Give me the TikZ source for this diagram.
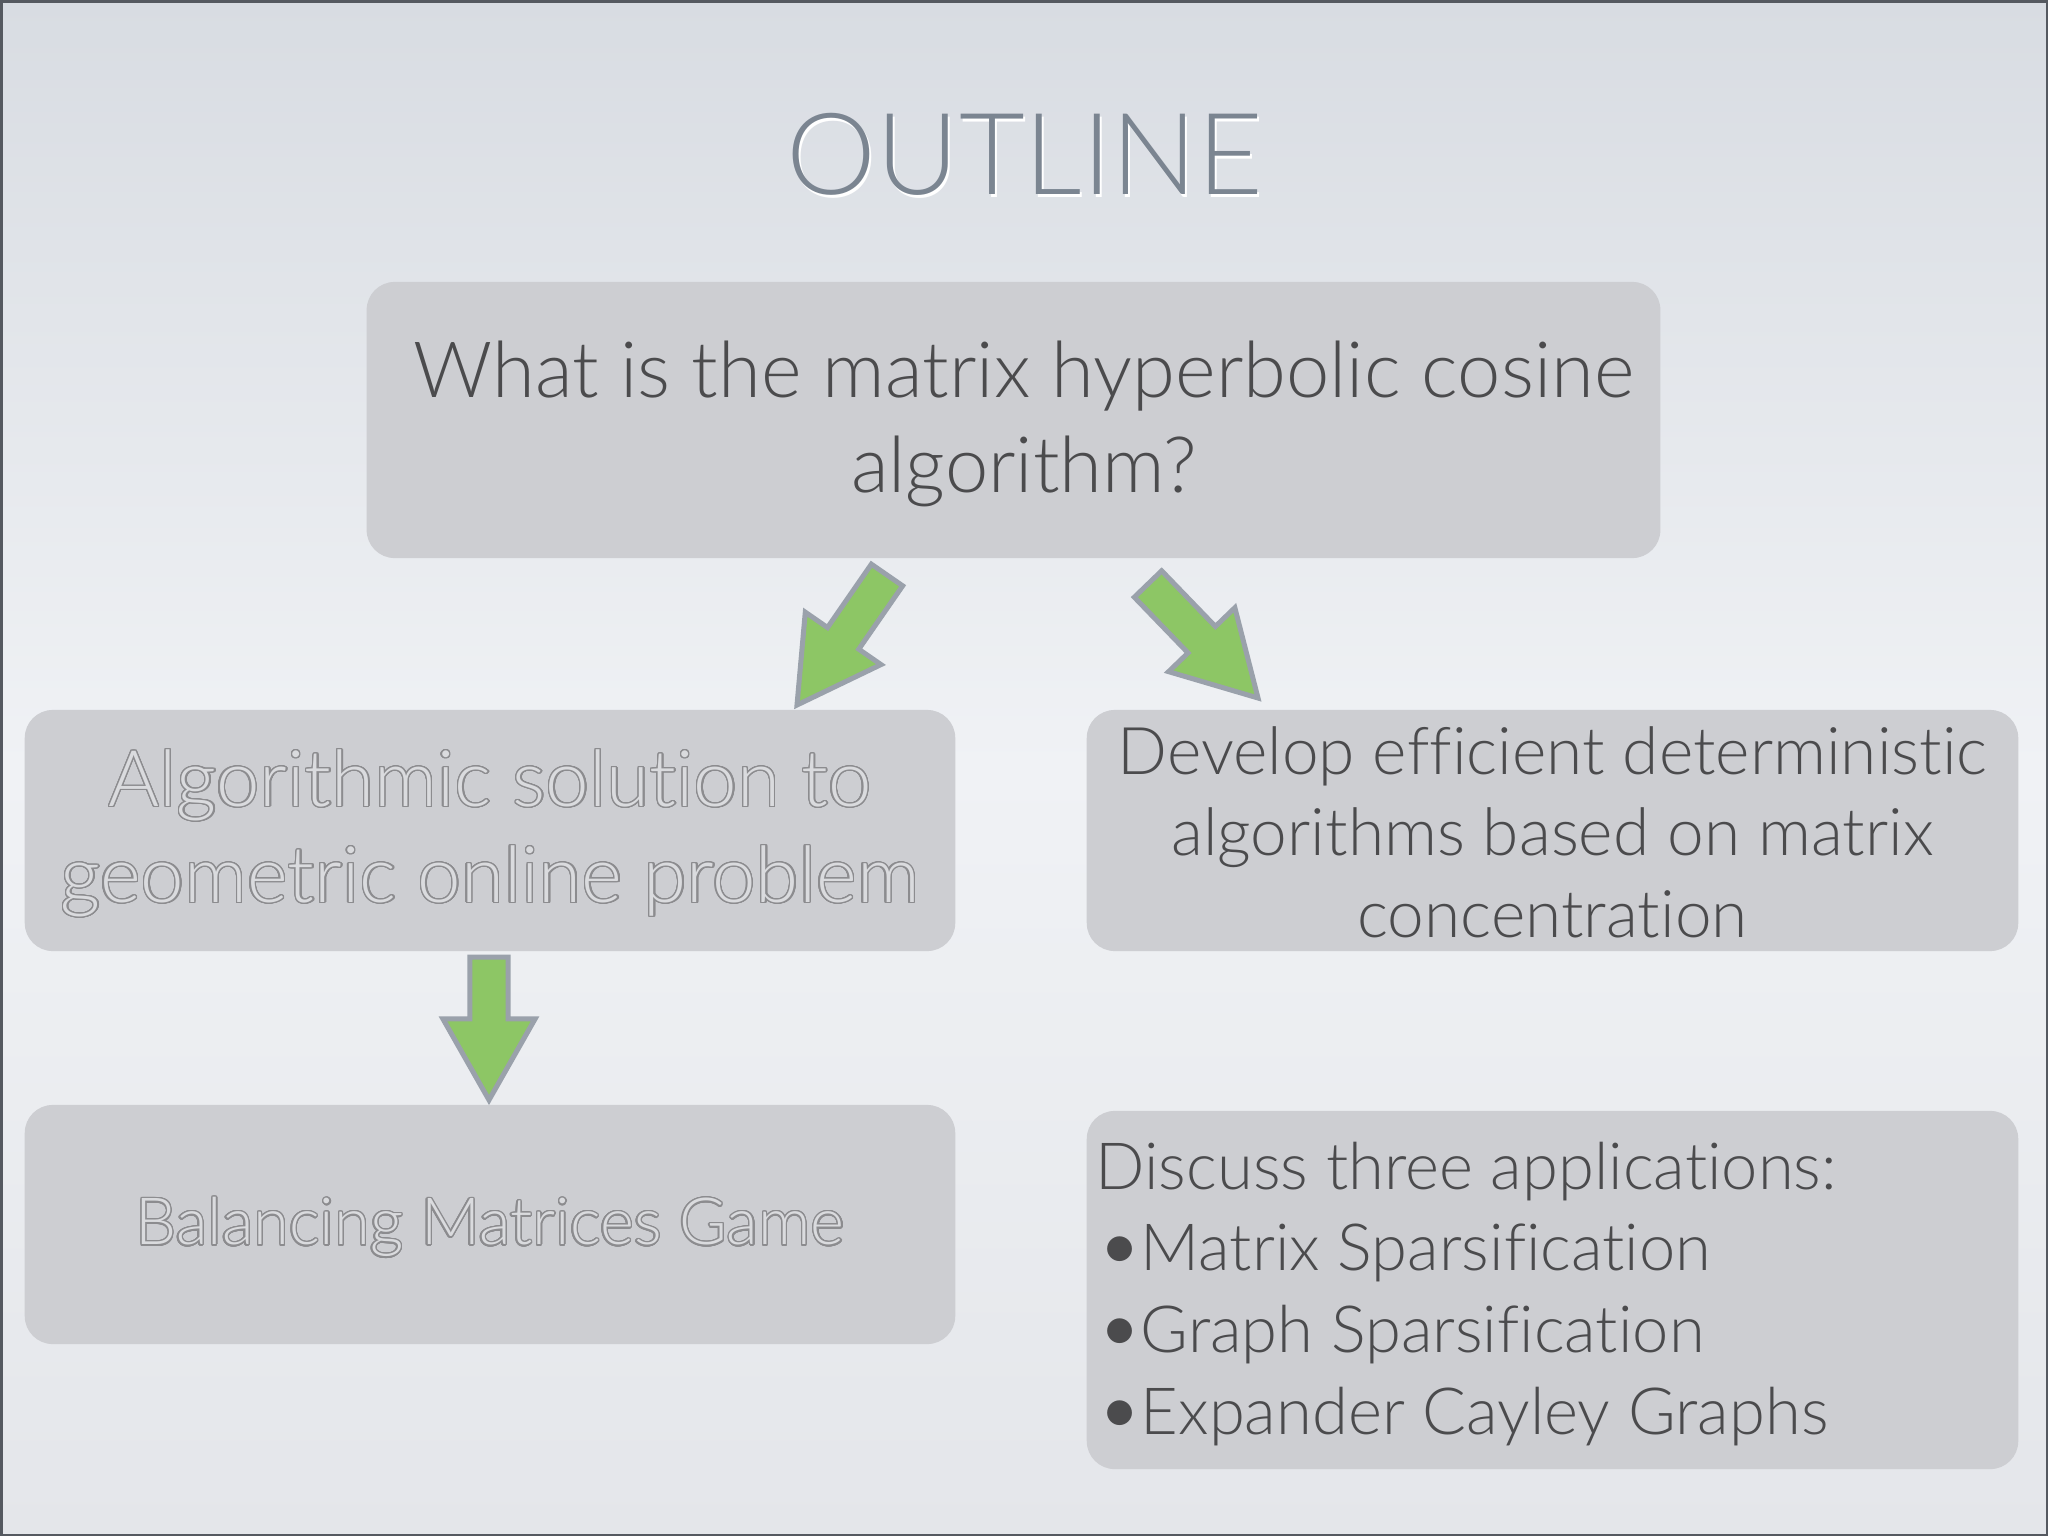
\documentclass[tikz,border=0pt]{standalone}
\usepackage{fontspec}
\setmainfont{Lato Light}[Ligatures=NoCommon]
\usepackage{contour}
\contourlength{0.4pt}
\contournumber{24}
\usetikzlibrary{calc}
\definecolor{bgtop}{HTML}{D8DCE2}
\definecolor{bgmid}{HTML}{F0F2F5}
\definecolor{bgbot}{HTML}{E4E6EA}
\definecolor{boxfill}{HTML}{CDCED2}
\definecolor{maintext}{HTML}{4B4B4D}
\definecolor{titletext}{HTML}{7B8591}
\definecolor{outstroke}{HTML}{8C8C8F}
\definecolor{outfill}{HTML}{DADBDE}
\definecolor{arrowfill}{HTML}{8DC665}
\definecolor{arrowedge}{HTML}{9AA1AB}
\definecolor{framecol}{HTML}{555960}
\tikzset{
  panel/.style={fill=boxfill, rounded corners=0.28cm, inner sep=0pt, draw=none},
  bigarrow/.style={fill=arrowfill, draw=arrowedge, line width=0.05cm, line join=miter},
  maintxt/.style={text=maintext, inner sep=0pt, align=center},
}
\newcommand\blockarrow[2]{%
  \coordinate (ba-h) at ($(#2)!0.81cm!(#1)$);
  \draw[bigarrow] ($(#1)!0.19cm!90:(#2)$) -- ($(ba-h)!0.19cm!90:(#2)$)
    -- ($(ba-h)!0.46cm!90:(#2)$) -- (#2) -- ($(ba-h)!0.46cm!-90:(#2)$)
    -- ($(ba-h)!0.19cm!-90:(#2)$) -- ($(#1)!0.19cm!-90:(#2)$) -- cycle;}
\newcommand\outl[1]{\contour{outstroke}{#1}}
\newcommand\bul{\raisebox{-0.035cm}{\scalebox{1.3}{•}}\hspace{-0.04cm}}
\begin{document}
\begin{tikzpicture}[x=0.01cm, y=-0.01cm]
\useasboundingbox (0,0) rectangle (2048,1536);
\shade[top color=bgtop, bottom color=bgbot, middle color=bgmid] (0,0) rectangle (2048,1536);
\draw[framecol, line width=0.03cm] (1,1) rectangle (2047,1535);
% title
\node[text=white, inner sep=0pt, font=\fontsize{32.3}{32}\selectfont] at (1027,157) {OUTLINE};
\node (title) [text=titletext, inner sep=0pt, font=\fontsize{32.3}{32}\selectfont] at (1025,154) {OUTLINE};
% boxes
\node (top) [panel, minimum width=12.93cm, minimum height=2.76cm] at (1013.5,420) {};
\node (lmid) [panel, minimum width=9.30cm, minimum height=2.41cm] at (490,830.5) {};
\node (rmid) [panel, minimum width=9.31cm, minimum height=2.41cm] at (1552.5,830.5) {};
\node (lbot) [panel, minimum width=9.30cm, minimum height=2.39cm] at (490,1224.5) {};
\node (rbot) [panel, minimum width=9.31cm, minimum height=3.58cm] at (1552.5,1290) {};
% texts
\node (toptext) [maintxt, font=\fontsize{22.1}{27}\selectfont] at (1024,424) {What is the matrix hyperbolic cosine\\algorithm?};
\node (lmidtext) [inner sep=0pt, align=center, text=outfill, font=\fontsize{22.2}{27.3}\selectfont] at (490,834) {\outl{Algorithmic solution to}\\\outl{geometric online problem}};
\node (rmidtext) [maintxt, font=\fontsize{18.7}{23.2}\selectfont] at (1552.5,832) {Develop efficient deterministic\\algorithms based on matrix\\concentration};
\node (lbottext) [inner sep=0pt, text=outfill, font=\fontsize{18.5}{22}\selectfont] at (490,1228) {\outl{Balancing Matrices Game}};
\node (rbottext) [maintxt, align=left, anchor=west, font=\fontsize{18.5}{23.3}\selectfont] at (1095,1294) {Discuss three applications:\\\bul Matrix Sparsification\\\bul Graph Sparsification\\\bul Expander Cayley Graphs};
% arrows
\coordinate (a1t) at (887,575);
\coordinate (a1h) at (797,705);
\coordinate (a2t) at (1148,584);
\coordinate (a2h) at (1258,698);
\coordinate (a3t) at (489,957);
\coordinate (a3h) at (489,1100);
\blockarrow{a1t}{a1h}
\blockarrow{a2t}{a2h}
\blockarrow{a3t}{a3h}
\end{tikzpicture}
\end{document}
